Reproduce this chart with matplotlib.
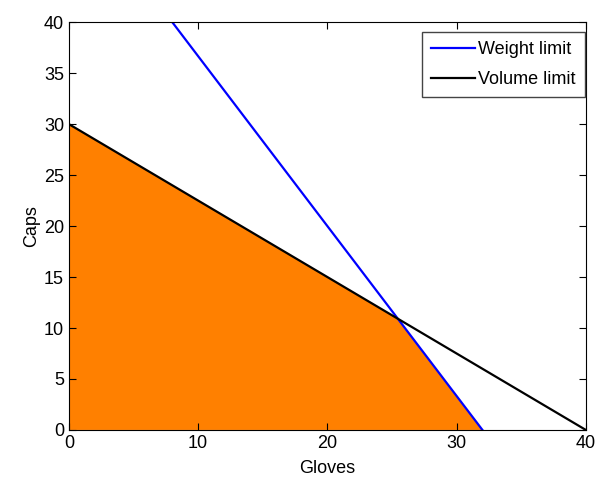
import numpy as np
import matplotlib.pyplot as plt

plt.rcParams['font.family'] = ['Liberation Sans', 'DejaVu Sans']

# weight limit: endpoints
weight_gloves = [8, 32]
weight_caps = [40, 0]
# volume limit
volume_gloves = [0, 40]
volume_caps = [30, 0]
# feasible region corners
region_gloves = [0, 0, 25.45, 32]
region_caps = [0, 30, 10.9, 0]

fig = plt.figure(figsize=(5.99, 4.82), dpi=100)
ax = fig.add_axes([0.115, 0.108, 0.863, 0.846])

ax.fill(region_gloves, region_caps, color='#ff8000', lw=0)
ax.plot(weight_gloves, weight_caps, color='blue', lw=1.6, label='Weight limit')
ax.plot(volume_gloves, volume_caps, color='black', lw=1.6, label='Volume limit')

ax.set_xlim(0, 40)
ax.set_ylim(0, 40)
ax.set_xticks(np.arange(0, 41, 10))
ax.set_yticks(np.arange(0, 41, 5))
ax.tick_params(direction='in', top=True, right=True, labelsize=13, length=5)
ax.set_xlabel('Gloves', fontsize=13, labelpad=6)
ax.set_ylabel('Caps', fontsize=13, labelpad=3)

leg = ax.legend(loc='upper right', bbox_to_anchor=(0.998, 0.975), fontsize=13,
                fancybox=False, edgecolor='#444444',
                handlelength=2.4, handletextpad=0.2, borderpad=0.5, labelspacing=0.7,
                borderaxespad=0, framealpha=1)
leg.get_frame().set_linewidth(1.0)

fig.savefig('out.png')
